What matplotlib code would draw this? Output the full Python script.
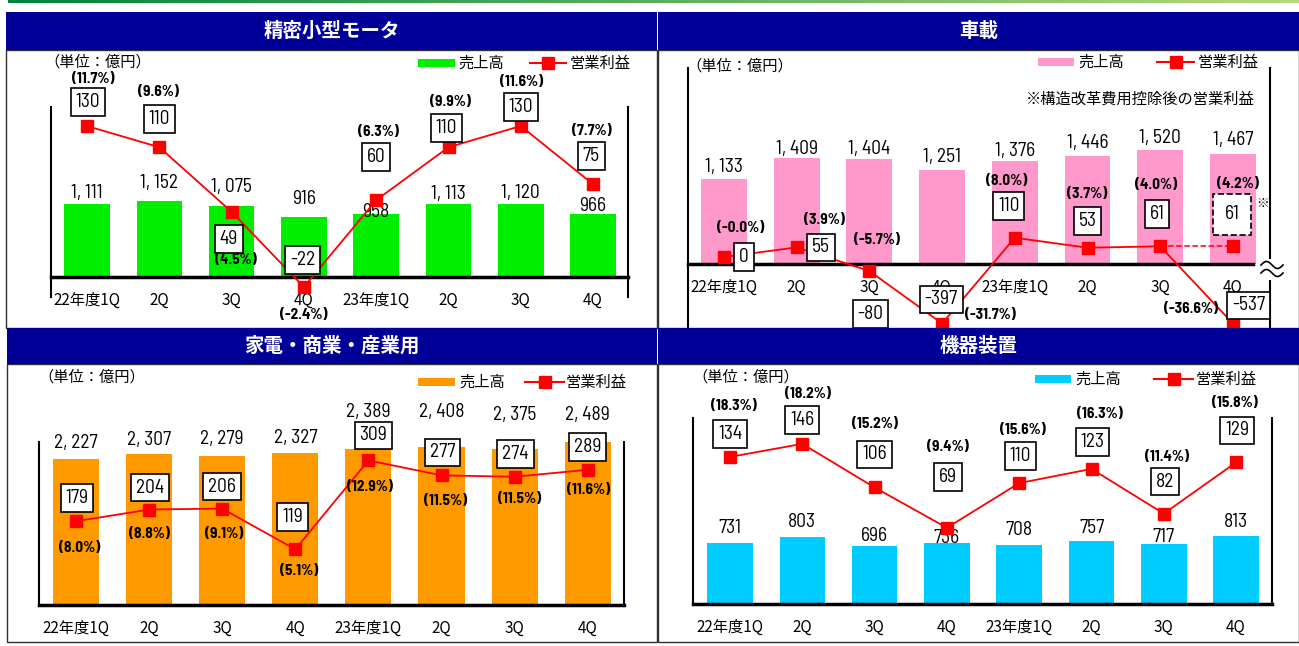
import numpy as np
import matplotlib.pyplot as plt
from matplotlib.patches import Rectangle
from matplotlib.lines import Line2D
from matplotlib.colors import LinearSegmentedColormap

W, H = 1299, 646
CJK = ['Noto Sans CJK JP', 'DejaVu Sans']
NUM = ['Barlow Semi Condensed', 'DejaVu Sans']
NAVY = '#000099'
RED = '#ff0000'

quarters = ['22年度1Q', '2Q', '3Q', '4Q', '23年度1Q', '2Q', '3Q', '4Q']

# 精密小型モータ
motor_sales = [1111, 1152, 1075, 916, 958, 1113, 1120, 966]
motor_profit = [130, 110, 49, -22, 60, 110, 130, 75]
motor_margin = [11.7, 9.6, 4.5, -2.4, 6.3, 9.9, 11.6, 7.7]

# 車載
auto_sales = [1133, 1409, 1404, 1251, 1376, 1446, 1520, 1467]
auto_profit = [0, 55, -80, -397, 110, 53, 61, -537]
auto_margin = [-0.0, 3.9, -5.7, -31.7, 8.0, 3.7, 4.0, -36.6]
auto_adj_profit = 61      # 4Q, 構造改革費用控除後
auto_adj_margin = 4.2

# 家電・商業・産業用
appl_sales = [2227, 2307, 2279, 2327, 2389, 2408, 2375, 2489]
appl_profit = [179, 204, 206, 119, 309, 277, 274, 289]
appl_margin = [8.0, 8.8, 9.1, 5.1, 12.9, 11.5, 11.5, 11.6]

# 機器装置
mach_sales = [731, 803, 696, 736, 708, 757, 717, 813]
mach_profit = [134, 146, 106, 69, 110, 123, 82, 129]
mach_margin = [18.3, 18.2, 15.2, 9.4, 15.6, 16.3, 11.4, 15.8]

fig = plt.figure(figsize=(W / 100, H / 100), dpi=100)


def fx(x):
    return x / W


def fy(y):
    return 1 - y / H


def rect(x0, y0, x1, y1, **kw):
    fig.add_artist(Rectangle((fx(x0), fy(y1)), (x1 - x0) / W, (y1 - y0) / H,
                             transform=fig.transFigure, **kw))


def pix_line(xs, ys, **kw):
    fig.add_artist(Line2D([fx(v) for v in xs], [fy(v) for v in ys],
                          transform=fig.transFigure, **kw))


# green strip at the very top
grad = fig.add_axes([fx(8), fy(3), (W - 8) / W, 3 / H])
grad.imshow(np.linspace(0, 1, 256)[None, :], aspect='auto',
            cmap=LinearSegmentedColormap.from_list('g', ['#00843d', '#b5d97a']))
grad.axis('off')

BOX = dict(boxstyle='square,pad=0.25', fc='white', ec='black', lw=1.2)


def panel(title, color, sales, profit, margin, lay):
    L, T, R, B = lay['box']
    ax = fig.add_axes([fx(L), fy(B), (R - L) / W, (B - T) / H])
    c0, sp = lay['c0'], lay['sp']
    ax.set_xlim(-(c0 - L) / sp, (R - c0) / sp)
    z, s = lay['bar_zero'], lay['bar_px']
    ax.set_ylim(-(B - z) / s, (z - T) / s)
    ax2 = ax.twinx()
    z2, s2 = lay['line_zero'], lay['line_px']
    ax2.set_ylim(-(B - z2) / s2, (z2 - T) / s2)

    for a in (ax, ax2):
        a.set_xticks([])
        a.set_yticks([])
        for sname in ('top', 'bottom'):
            a.spines[sname].set_visible(False)
    ax2.spines['left'].set_visible(False)
    ax2.spines['right'].set_visible(False)
    ax.spines['left'].set_linewidth(1.5)
    ax.spines['right'].set_linewidth(1.5)
    ax.patch.set_alpha(0)

    x = np.arange(len(sales))
    ax.bar(x, sales, width=0.63, color=color, zorder=2)
    ax.axhline(0, xmax=lay.get('base_end', 1), color='black', lw=2.5,
               zorder=3, clip_on=False)

    for i, v in enumerate(sales):
        ax.annotate(f'{v:,}'.replace(',', ', '), (i, v),
                    xytext=(0, lay['sales_off'][i]),
                    textcoords='offset pixels', ha='center', va='center',
                    fontsize=14, family=NUM, annotation_clip=False, zorder=4)
    for i, q in enumerate(quarters):
        ax.annotate(q, (i, 0), xytext=(0, -23), textcoords='offset pixels',
                    ha='center', va='center', fontsize=11, family=CJK,
                    annotation_clip=False)

    shown = np.maximum(profit, lay.get('floor', -1e9))
    ax2.plot(x, shown, color=RED, lw=1.3, marker='s', ms=8.5, zorder=3)
    for i, (v, y, m) in enumerate(zip(profit, shown, margin)):
        bdx, bdy = lay['box_off'][i]
        ax2.annotate(f'{v}', (i, y), xytext=(bdx, -bdy),
                     textcoords='offset pixels', ha='center', va='center',
                     fontsize=14, family=NUM, bbox=BOX, zorder=5,
                     annotation_clip=False)
        pdx, pdy = lay['pct_off'][i]
        ax2.annotate(f'({m:.1f}%)', (i, y), xytext=(pdx, -pdy),
                     textcoords='offset pixels', ha='center', va='center',
                     fontsize=11, fontweight='bold', family=NUM, zorder=5,
                     annotation_clip=False)

    # title bar and frame
    bx0, by0, bx1, by1, by2 = lay['frame']
    rect(bx0, by1, bx1, by2, fill=False, ec='#303030', lw=1, zorder=4)
    rect(bx0, by0, bx1, by1, fc=NAVY, ec='none', zorder=5)
    fig.text(fx((bx0 + bx1) / 2), fy((by0 + by1) / 2), title, color='white',
             fontsize=14, fontweight='bold', family=CJK, ha='center',
             va='center', zorder=6)

    # unit and legend
    ux, uy = lay['unit']
    fig.text(fx(ux), fy(uy), '（単位：億円）', fontsize=11, family=CJK,
             ha='left', va='center')
    px0, px1, ly, tx1, lx0, lx1, tx2 = lay['legend']
    rect(px0, ly - 4, px1, ly + 4, fc=color, ec='none')
    fig.text(fx(tx1), fy(ly), '売上高', fontsize=11, family=CJK,
             ha='left', va='center')
    pix_line([lx0, lx1], [ly, ly], color=RED, lw=1.5)
    pix_line([(lx0 + lx1) / 2], [ly], color=RED, marker='s', ms=8.5, lw=0)
    fig.text(fx(tx2), fy(ly), '営業利益', fontsize=11, family=CJK,
             ha='left', va='center')
    return ax, ax2


panel('精密小型モータ', '#00ee00', motor_sales, motor_profit, motor_margin, dict(
    box=(51, 107, 628, 297), c0=87, sp=72.3,
    bar_zero=277, bar_px=0.0656, line_zero=263.7, line_px=1.059,
    sales_off=[11, 18, 19, 18, 2, 10, 11, 8],
    box_off=[(1, -24), (0, -28), (-3, 27), (-1, -27), (0, -43), (-2, -19), (0, -19), (-2, -28)],
    pct_off=[(6, -47), (-1, -55), (4, 48), (0, 28), (2, -68), (2, -45), (1, -44), (-1, -53)],
    frame=(6, 12, 657, 50, 328), unit=(44, 62),
    legend=(418, 455, 63, 458, 530, 566, 570)))

ax, ax2 = panel('車載', '#ff99cc', auto_sales, auto_profit, auto_margin, dict(
    box=(688, 68, 1270, 328), c0=724, sp=72.7,
    bar_zero=264, bar_px=0.075, line_zero=257, line_px=0.175,
    floor=-380, base_end=0.971,
    sales_off=[12, 9, 10, 13, 10, 13, 12, 14],
    box_off=[(20, 0), (24, 0), (1, 43), (-1, -24), (-6, -32), (0, -27), (-3, -32), (16, -18)],
    pct_off=[(17, -29), (28, -27), (8, -31), (48, -8), (-8, -57), (0, -54), (-4, -61), (-42, -15)],
    frame=(658, 12, 1299, 50, 328), unit=(686, 66),
    legend=(1038, 1074, 62, 1078, 1157, 1194, 1198)))

# 4Q excluding restructuring costs (dashed)
ax2.plot([6, 7], [auto_profit[6], auto_adj_profit], color=RED, lw=1.1, ls='--', zorder=3)
ax2.plot([7], [auto_adj_profit], color=RED, marker='s', ms=8.5, lw=0, zorder=3)
ax2.annotate(f'{auto_adj_profit}', (7, auto_adj_profit), xytext=(-1, 32),
             textcoords='offset pixels', ha='center', va='center', fontsize=14,
             family=NUM, zorder=5,
             bbox=dict(boxstyle='square,pad=0.6', fc='white', ec='black', lw=1.2, ls='--'))
ax2.annotate(f'({auto_adj_margin:.1f}%)', (7, auto_adj_profit), xytext=(5, 62),
             textcoords='offset pixels', ha='center', va='center', fontsize=11,
             fontweight='bold', family=NUM, zorder=5)
ax2.annotate('※', (7, auto_adj_profit), xytext=(30, 43), textcoords='offset pixels',
             ha='center', va='center', fontsize=9, family=CJK, zorder=5)
fig.text(fx(1255), fy(99), '※構造改革費用控除後の営業利益', fontsize=11,
         family=CJK, ha='right', va='center')

# axis break mark on the right edge
rect(1262, 259, 1282, 280, fc='white', ec='none', zorder=6)
wx = np.linspace(1261, 1283, 40)
for yc in (265, 273):
    pix_line(wx, yc - 3.5 * np.sin((wx - 1261) / 22 * 2 * np.pi), color='black',
             lw=1.2, zorder=7)

panel('家電・商業・産業用', '#ff9900', appl_sales, appl_profit, appl_margin, dict(
    box=(39, 442, 624, 606), c0=76, sp=73.1,
    bar_zero=605, bar_px=0.0655, line_zero=605, line_px=0.468,
    sales_off=[16, 14, 17, 15, 37, 35, 34, 27],
    box_off=[(1, -23), (1, -22), (0, -22), (-3, -32), (5, -25), (1, -23), (1, -23), (0, -23)],
    pct_off=[(4, 27), (0, 24), (2, 25), (4, 22), (2, 27), (4, 26), (5, 22), (1, 20)],
    frame=(7, 328, 657, 364, 642), unit=(38, 377),
    legend=(418, 455, 382, 459, 525, 564, 566)))

panel('機器装置', '#00ccff', mach_sales, mach_profit, mach_margin, dict(
    box=(693, 418, 1272, 605), c0=730, sp=72.3,
    bar_zero=604, bar_px=0.0835, line_zero=603, line_px=1.09,
    sales_off=[15, 15, 10, 5, 15, 13, 7, 14],
    box_off=[(0, -23), (0, -24), (0, -33), (1, -51), (1, -27), (1, -27), (1, -32), (1, -32)],
    pct_off=[(4, -51), (6, -50), (0, -63), (1, -81), (4, -53), (8, -55), (3, -57), (-1, -59)],
    frame=(658, 328, 1299, 364, 642), unit=(692, 377),
    legend=(1035, 1071, 379, 1075, 1154, 1193, 1196)))

fig.savefig('out.png', dpi=100)
